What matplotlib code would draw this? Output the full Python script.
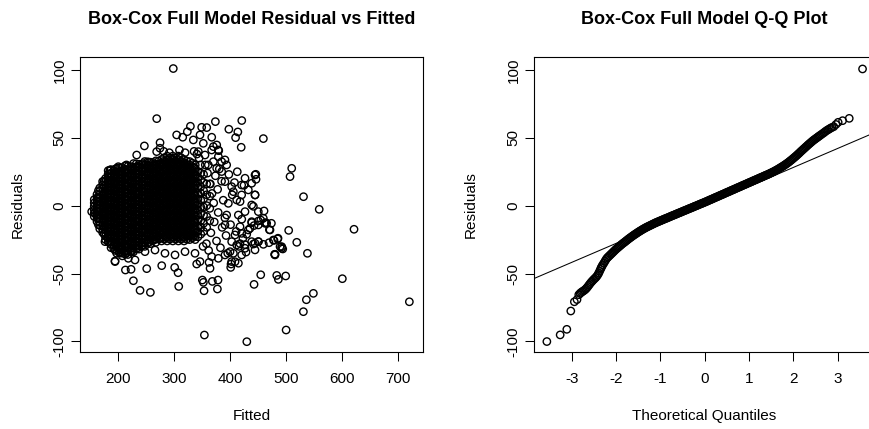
import matplotlib
matplotlib.use("Agg")
import matplotlib.pyplot as plt

# Residuals vs fitted: the solid core of the cloud, read column by column
# (one fitted value per column, with the residuals stacked in that column)
core_col_fitted = [
    158.2, 163.1, 168.0, 173.1, 178.2, 183.0, 188.1, 193.0, 198.1, 203.0,
    208.1, 213.0, 218.1, 223.0, 228.1, 233.0, 238.1, 243.0, 248.1, 253.0,
    258.1, 263.0, 268.1, 273.0, 278.1, 283.0, 288.1, 293.0, 298.1, 303.0,
    308.1, 313.0, 318.1, 323.0, 328.1, 333.0, 338.1, 343.0, 348.0, 353.0,
    358.5, 364.0,
]
core_col_resid = [
    [-8, -5.5, -3, -0.5, 2, 4.5],
    [-11.7, -9.2, -6.7, -4.2, -1.7, 0.8, 3.3, 5.8, 8.3],
    [-17, -14.5, -12, -9.5, -7, -4.5, -2, 0.5, 3, 5.5, 8, 10.5, 13],
    [-19.7, -17.2, -14.7, -12.2, -9.7, -7.2, -4.7, -2.2, 0.3, 2.8, 5.3, 7.8, 10.3,
     12.8, 15.3, 17.8],
    [-25, -22.5, -20, -17.5, -15, -12.5, -10, -7.5, -5, -2.5, 0, 2.5, 5, 7.5, 10,
     12.5, 15, 17.5, 20],
    [-26.7, -24.2, -21.7, -19.2, -16.7, -14.2, -11.7, -9.2, -6.7, -4.2, -1.7, 0.8,
     3.3, 5.8, 8.3, 10.8, 13.3, 15.8, 18.3, 20.8, 23.3, 25.8],
    [-31, -28.5, -26, -23.5, -21, -18.5, -16, -13.5, -11, -8.5, -6, -3.5, -1, 1.5,
     4, 6.5, 9, 11.5, 14, 16.5, 19, 21.5, 24, 26.5],
    [-31.7, -29.2, -26.7, -24.2, -21.7, -19.2, -16.7, -14.2, -11.7, -9.2, -6.7,
     -4.2, -1.7, 0.8, 3.3, 5.8, 8.3, 10.8, 13.3, 15.8, 18.3, 20.8, 23.3, 25.8],
    [-35, -32.5, -30, -27.5, -25, -22.5, -20, -17.5, -15, -12.5, -10, -7.5, -5,
     -2.5, 0, 2.5, 5, 7.5, 10, 12.5, 15, 17.5, 20, 22.5, 25, 27.5],
    [-34.7, -32.2, -29.7, -27.2, -24.7, -22.2, -19.7, -17.2, -14.7, -12.2, -9.7,
     -7.2, -4.7, -2.2, 0.3, 2.8, 5.3, 7.8, 10.3, 12.8, 15.3, 17.8, 20.3, 22.8,
     25.3, 27.8],
    [-37, -34.5, -32, -29.5, -27, -24.5, -22, -19.5, -17, -14.5, -12, -9.5, -7,
     -4.5, -2, 0.5, 3, 5.5, 8, 10.5, 13, 15.5, 18, 20.5, 23, 25.5, 28],
    [-35.7, -33.2, -30.7, -28.2, -25.7, -23.2, -20.7, -18.2, -15.7, -13.2, -10.7,
     -8.2, -5.7, -3.2, -0.7, 1.8, 4.3, 6.8, 9.3, 11.8, 14.3, 16.8, 19.3, 21.8,
     24.3, 26.8, 29.3],
    [-36, -33.5, -31, -28.5, -26, -23.5, -21, -18.5, -16, -13.5, -11, -8.5, -6,
     -3.5, -1, 1.5, 4, 6.5, 9, 11.5, 14, 16.5, 19, 21.5, 24, 26.5, 29],
    [-33.7, -31.2, -28.7, -26.2, -23.7, -21.2, -18.7, -16.2, -13.7, -11.2, -8.7,
     -6.2, -3.7, -1.2, 1.3, 3.8, 6.3, 8.8, 11.3, 13.8, 16.3, 18.8, 21.3, 23.8,
     26.3, 28.8],
    [-34, -31.5, -29, -26.5, -24, -21.5, -19, -16.5, -14, -11.5, -9, -6.5, -4,
     -1.5, 1, 3.5, 6, 8.5, 11, 13.5, 16, 18.5, 21, 23.5, 26, 28.5, 31],
    [-31.7, -29.2, -26.7, -24.2, -21.7, -19.2, -16.7, -14.2, -11.7, -9.2, -6.7,
     -4.2, -1.7, 0.8, 3.3, 5.8, 8.3, 10.8, 13.3, 15.8, 18.3, 20.8, 23.3, 25.8,
     28.3, 30.8],
    [-32, -29.5, -27, -24.5, -22, -19.5, -17, -14.5, -12, -9.5, -7, -4.5, -2, 0.5,
     3, 5.5, 8, 10.5, 13, 15.5, 18, 20.5, 23, 25.5, 28, 30.5],
    [-29.7, -27.2, -24.7, -22.2, -19.7, -17.2, -14.7, -12.2, -9.7, -7.2, -4.7,
     -2.2, 0.3, 2.8, 5.3, 7.8, 10.3, 12.8, 15.3, 17.8, 20.3, 22.8, 25.3, 27.8,
     30.3],
    [-30, -27.5, -25, -22.5, -20, -17.5, -15, -12.5, -10, -7.5, -5, -2.5, 0, 2.5,
     5, 7.5, 10, 12.5, 15, 17.5, 20, 22.5, 25, 27.5, 30, 32.5],
    [-27.7, -25.2, -22.7, -20.2, -17.7, -15.2, -12.7, -10.2, -7.7, -5.2, -2.7,
     -0.2, 2.3, 4.8, 7.3, 9.8, 12.3, 14.8, 17.3, 19.8, 22.3, 24.8, 27.3, 29.8,
     32.3],
    [-28, -25.5, -23, -20.5, -18, -15.5, -13, -10.5, -8, -5.5, -3, -0.5, 2, 4.5,
     7, 9.5, 12, 14.5, 17, 19.5, 22, 24.5, 27, 29.5, 32],
    [-25.7, -23.2, -20.7, -18.2, -15.7, -13.2, -10.7, -8.2, -5.7, -3.2, -0.7, 1.8,
     4.3, 6.8, 9.3, 11.8, 14.3, 16.8, 19.3, 21.8, 24.3, 26.8, 29.3, 31.8],
    [-27, -24.5, -22, -19.5, -17, -14.5, -12, -9.5, -7, -4.5, -2, 0.5, 3, 5.5, 8,
     10.5, 13, 15.5, 18, 20.5, 23, 25.5, 28, 30.5, 33],
    [-24.7, -22.2, -19.7, -17.2, -14.7, -12.2, -9.7, -7.2, -4.7, -2.2, 0.3, 2.8,
     5.3, 7.8, 10.3, 12.8, 15.3, 17.8, 20.3, 22.8, 25.3, 27.8, 30.3, 32.8],
    [-26, -23.5, -21, -18.5, -16, -13.5, -11, -8.5, -6, -3.5, -1, 1.5, 4, 6.5, 9,
     11.5, 14, 16.5, 19, 21.5, 24, 26.5, 29, 31.5, 34],
    [-24.7, -22.2, -19.7, -17.2, -14.7, -12.2, -9.7, -7.2, -4.7, -2.2, 0.3, 2.8,
     5.3, 7.8, 10.3, 12.8, 15.3, 17.8, 20.3, 22.8, 25.3, 27.8, 30.3, 32.8, 35.3],
    [-26, -23.5, -21, -18.5, -16, -13.5, -11, -8.5, -6, -3.5, -1, 1.5, 4, 6.5, 9,
     11.5, 14, 16.5, 19, 21.5, 24, 26.5, 29, 31.5, 34, 36.5],
    [-24.7, -22.2, -19.7, -17.2, -14.7, -12.2, -9.7, -7.2, -4.7, -2.2, 0.3, 2.8,
     5.3, 7.8, 10.3, 12.8, 15.3, 17.8, 20.3, 22.8, 25.3, 27.8, 30.3, 32.8, 35.3],
    [-26, -23.5, -21, -18.5, -16, -13.5, -11, -8.5, -6, -3.5, -1, 1.5, 4, 6.5, 9,
     11.5, 14, 16.5, 19, 21.5, 24, 26.5, 29, 31.5, 34, 36.5],
    [-24.7, -22.2, -19.7, -17.2, -14.7, -12.2, -9.7, -7.2, -4.7, -2.2, 0.3, 2.8,
     5.3, 7.8, 10.3, 12.8, 15.3, 17.8, 20.3, 22.8, 25.3, 27.8, 30.3, 32.8, 35.3],
    [-26, -23.5, -21, -18.5, -16, -13.5, -11, -8.5, -6, -3.5, -1, 1.5, 4, 6.5, 9,
     11.5, 14, 16.5, 19, 21.5, 24, 26.5, 29, 31.5, 34, 36.5],
    [-24.7, -22.2, -19.7, -17.2, -14.7, -12.2, -9.7, -7.2, -4.7, -2.2, 0.3, 2.8,
     5.3, 7.8, 10.3, 12.8, 15.3, 17.8, 20.3, 22.8, 25.3, 27.8, 30.3, 32.8, 35.3],
    [-26, -23.5, -21, -18.5, -16, -13.5, -11, -8.5, -6, -3.5, -1, 1.5, 4, 6.5, 9,
     11.5, 14, 16.5, 19, 21.5, 24, 26.5, 29, 31.5, 34],
    [-24.7, -22.2, -19.7, -17.2, -14.7, -12.2, -9.7, -7.2, -4.7, -2.2, 0.3, 2.8,
     5.3, 7.8, 10.3, 12.8, 15.3, 17.8, 20.3, 22.8, 25.3, 27.8, 30.3, 32.8],
    [-25, -22.5, -20, -17.5, -15, -12.5, -10, -7.5, -5, -2.5, 0, 2.5, 5, 7.5, 10,
     12.5, 15, 17.5, 20, 22.5, 25, 27.5, 30, 32.5],
    [-23.7, -21.2, -18.7, -16.2, -13.7, -11.2, -8.7, -6.2, -3.7, -1.2, 1.3, 3.8,
     6.3, 8.8, 11.3, 13.8, 16.3, 18.8, 21.3, 23.8, 26.3, 28.8, 31.3],
    [-25, -22.5, -20, -17.5, -15, -12.5, -10, -7.5, -5, -2.5, 0, 2.5, 5, 7.5, 10,
     12.5, 15, 17.5, 20, 22.5, 25, 27.5, 30],
    [-23, -19, -15, -11, -7, -3, 1, 5, 9, 13, 17, 21, 25],
    [-21, -16, -11, -6, -1, 4, 9, 14, 19, 24],
    [-19, -13, -7, -1, 5, 11, 17, 23],
    [-16, -8, 0, 8, 16],
    [-11, -2, 7, 16],
]

# a second, offset pass through the core (readings between the columns above)
core2_col_fitted = [
    165.6, 175.7, 185.5, 195.6, 205.5, 215.6, 225.5, 235.6, 245.5, 255.6,
    265.5, 275.6, 285.5, 295.6, 305.5, 315.6, 325.5, 335.6,
]
core2_col_resid = [
    [-14, -9, -4, 1, 6, 11],
    [-21, -16, -11, -6, -1, 4, 9, 14, 18],
    [-27, -22, -17, -12, -7, -2, 3, 8, 13, 18, 23],
    [-33, -28, -23, -18, -13, -8, -3, 2, 7, 12, 17, 22, 27],
    [-35, -30, -25, -20, -15, -10, -5, 0, 5, 10, 15, 20, 25],
    [-35, -30, -25, -20, -15, -10, -5, 0, 5, 10, 15, 20, 25, 30],
    [-33, -28, -23, -18, -13, -8, -3, 2, 7, 12, 17, 22, 27],
    [-31, -26, -21, -16, -11, -6, -1, 4, 9, 14, 19, 24, 29],
    [-29, -24, -19, -14, -9, -4, 1, 6, 11, 16, 21, 26, 31],
    [-27, -22, -17, -12, -7, -2, 3, 8, 13, 18, 23, 28, 32],
    [-25, -20, -15, -10, -5, 0, 5, 10, 15, 20, 25, 30],
    [-24, -19, -14, -9, -4, 1, 6, 11, 16, 21, 26, 31],
    [-23, -18, -13, -8, -3, 2, 7, 12, 17, 22, 27, 32],
    [-23, -18, -13, -8, -3, 2, 7, 12, 17, 22, 27, 32],
    [-23, -18, -13, -8, -3, 2, 7, 12, 17, 22, 27, 32],
    [-23, -18, -13, -8, -3, 2, 7, 12, 17, 22, 27, 32],
    [-22, -17, -12, -7, -2, 3, 8, 13, 18, 23, 28],
    [-22, -17, -12, -7, -2, 3, 8, 13, 18, 23, 28],
]

# Residuals vs fitted: looser fringe and the outlying points
outer_fitted = [
    299, 269.5, 421, 374, 398, 459.5, 414, 410, 420, 329.5,
    349.6, 358.6, 305, 315.8, 324, 367.5, 247.5, 275.4, 376.4, 380,
    510, 507, 446, 531, 559, 621, 504.6, 519, 538, 499.3,
    483.3, 486.2, 600.2, 548.6, 536.1, 530.8, 500, 719.6, 430, 354.4,
    454.8, 442.9, 378.7, 377.6, 350.8, 352.6, 353.8, 368.6, 308.7, 307.5,
    301.5, 239.8, 258.2, 227.9, 251.7, 278.4, 213.7, 223.8, 195.2, 340.7,
    364.5, 362.7, 401.3, 401.9, 409, 479.7, 478.5, 492.2, 494, 470.2,
    473.8, 460.7, 450.6, 441.7, 444.7, 446.4, 459.5, 450.6, 441.7, 429.8,
    426.8, 428.6, 417.9, 417.9, 438.7, 435.7, 454.8, 465.4, 469.6, 406.1,
    485.6, 489.2, 480.2, 463.6, 444.6, 442.8,
    334.7, 346.6, 352.5, 370.4, 379.3, 367.4, 275.3, 269.4, 233.8, 153.6,
    159.5, 165.5, 444.6, 426.8, 438.7, 420.8, 432.7, 444.6, 420.8, 403,
    412, 438.7, 450.5, 426.8, 414.9, 459.4, 438.7, 450.5, 462.4, 471.3,
    432.7, 420.8, 438.7, 450.5, 477.3, 485, 492.1, 480.2, 412, 426.8,
    444.6, 400.1, 403, 409, 391.1, 394.1, 397.1, 406, 391.1, 385.2,
    394.1, 385.2, 343.6, 355.5, 370.4, 379.3, 391.1, 361.4, 376.3,
    195.2, 218.9, 230.8, 248.6, 266.4, 284.2, 302.1, 319.9, 337.7, 346.6,
    367.4, 379.3, 391.1, 403, 415, 420.8, 207, 224.8, 177.3, 183.3,
    372, 376, 379, 383, 386, 388, 391, 393, 396, 398,
    401, 404, 408, 411, 413, 416, 418, 421, 423, 425,
    368, 365, 360, 356, 371, 374, 381, 385, 378, 366,
    358, 362, 347, 352, 345, 186.2, 201.1, 213, 282, 292,
    310, 320, 336, 341,
]
outer_resid = [
    101, 64.1, 62.7, 61.9, 56.3, 49.4, 54.3, 50.1, 43, 58.5,
    57.7, 57.5, 52.1, 50.4, 54.5, 50.4, 44, 46.4, 44.7, 40.5,
    27.5, 21.4, 23.1, 6.6, -2.7, -17.4, -18.2, -27, -35.1, -51.8,
    -51.4, -54.3, -53.8, -64.6, -69.3, -78.1, -91.6, -70.8, -100.2, -95.3,
    -50.9, -58, -54.8, -61.4, -54.8, -56.5, -62.7, -55.8, -59.5, -49.4,
    -45.5, -62.4, -63.9, -55.3, -46.4, -44.2, -47.4, -46.9, -40.8, -43,
    -46.2, -41.8, -45.5, -43, -41.3, -35.9, -25.6, -30.2, -31.9, -17.7,
    -13, -3.9, -11.3, -0.5, 7.9, 19.4, -28.5, -26.5, -28.3, -21.1,
    -28.7, -34.2, -28, -15.5, -12.5, -16.7, -10.6, -13, -27.3, -35.1,
    -24, -30.2, -36.3, -12.5, -27.7, -14.7,
    48.4, 52.1, 45.9, 43.5, 41, 41, 42.3, 39.8, 37.3, -4.4,
    -5.6, 5.4, 22.6, 20.2, 16.5, 15.2, 11.6, 7.9, 7.9, 14,
    4.2, 0.5, -4.4, -4.4, -6.9, -9.3, -11.8, -14.2, -13, -17.9,
    -17.9, -20.4, -26.5, -26.5, -25.3, -24.5, -31.4, -35.8, -29, -31.4,
    -32.6, -33.9, -26.5, -21.6, -14.2, -6.9, 1.7, 10.3, 17.7, 25.1,
    30, 32.4, 39.8, 37.3, 32.4, 36.1, 33.7, 30, 27.5,
    -41.2, -38.8, -40, -33.9, -32.7, -35.1, -36.3, -33.9, -35.1, -41.2,
    -37.5, -38.8, -36.3, -41.2, -42.4, -36.3, -31.4, -33.9, -26.5, -19.1,
    -12, -26, -5, -31, -16, 4, -9, -22, -35, 23,
    -14, 8, 17, -19, 25, -30, 3, -10, -24, 15,
    9, 16, 24, 30, 2, 22, 27, 18, 12, -20,
    -28, -33, 30, -30, 35, 26.3, 28.7, 26.3, 40, 39,
    41, 39, 40, 38,
]

# Normal Q-Q: theoretical quantiles and sorted residuals
qq_theoretical = [
    -3.56, -3.26, -3.11, -3.02, -2.94, -2.88, -2.84, -2.81, -2.785, -2.76,
    -2.735, -2.71, -2.685, -2.66, -2.635, -2.61, -2.585, -2.56, -2.535, -2.51,
    -2.485, -2.46, -2.435, -2.41, -2.39, -2.37, -2.35, -2.335, -2.32,
    -2.300, -2.275, -2.250, -2.225, -2.200, -2.175, -2.150, -2.125, -2.100, -2.075,
    -2.050, -2.025, -2.000, -1.975, -1.950, -1.925, -1.900, -1.875, -1.850, -1.825,
    -1.800, -1.775, -1.750, -1.725, -1.700, -1.675, -1.650, -1.625, -1.600, -1.575,
    -1.550, -1.525, -1.500, -1.475, -1.450, -1.425, -1.400, -1.375, -1.350, -1.325,
    -1.300, -1.275, -1.250, -1.225, -1.200, -1.175, -1.150, -1.125, -1.100, -1.075,
    -1.050, -1.025, -1.000, -0.975, -0.950, -0.925, -0.900, -0.875, -0.850, -0.825,
    -0.800, -0.775, -0.750, -0.725, -0.700, -0.675, -0.650, -0.625, -0.600, -0.575,
    -0.550, -0.525, -0.500, -0.475, -0.450, -0.425, -0.400, -0.375, -0.350, -0.325,
    -0.300, -0.275, -0.250, -0.225, -0.200, -0.175, -0.150, -0.125, -0.100, -0.075,
    -0.050, -0.025, 0.000, 0.025, 0.050, 0.075, 0.100, 0.125, 0.150, 0.175,
    0.200, 0.225, 0.250, 0.275, 0.300, 0.325, 0.350, 0.375, 0.400, 0.425,
    0.450, 0.475, 0.500, 0.525, 0.550, 0.575, 0.600, 0.625, 0.650, 0.675,
    0.700, 0.725, 0.750, 0.775, 0.800, 0.825, 0.850, 0.875, 0.900, 0.925,
    0.950, 0.975, 1.000, 1.025, 1.050, 1.075, 1.100, 1.125, 1.150, 1.175,
    1.200, 1.225, 1.250, 1.275, 1.300, 1.325, 1.350, 1.375, 1.400, 1.425,
    1.450, 1.475, 1.500, 1.525, 1.550, 1.575, 1.600, 1.625, 1.650, 1.675,
    1.700, 1.725, 1.750, 1.775, 1.800, 1.825, 1.850, 1.875, 1.900, 1.925,
    1.950, 1.975, 2.000, 2.025, 2.050, 2.075, 2.100, 2.125, 2.150, 2.175,
    2.200, 2.225, 2.250, 2.275, 2.300, 2.325, 2.350, 2.375, 2.400, 2.425,
    2.450, 2.475, 2.500, 2.525, 2.550, 2.575, 2.600, 2.63, 2.66, 2.69,
    2.72, 2.75, 2.78, 2.81, 2.84, 2.87, 2.91, 2.96, 3.01, 3.11,
    3.26, 3.56,
]
qq_residuals = [
    -100.1, -95.2, -91.1, -77.6, -70.8, -69.2, -65.6, -64.6, -63.9, -63.3,
    -62.8, -62.2, -61.5, -60.6, -59.6, -58.5, -57.4, -56.4, -55.5, -54.6,
    -53.8, -53.0, -52.1, -50.9, -49.7, -48.3, -46.9, -45.8, -44.8,
    -43.6, -42.4, -41.0, -39.6, -38.5, -37.7, -36.9, -36.1, -35.3, -34.5,
    -33.7, -32.9, -32.1, -31.4, -30.7, -30.0, -29.3, -28.6, -27.9, -27.3,
    -26.7, -26.0, -25.4, -24.7, -24.1, -23.5, -22.9, -22.3, -21.7, -21.2,
    -20.6, -20.1, -19.5, -19.0, -18.5, -18.0, -17.5, -17.0, -16.6, -16.1,
    -15.7, -15.3, -14.9, -14.5, -14.1, -13.7, -13.3, -12.9, -12.5, -12.2,
    -11.8, -11.5, -11.1, -10.8, -10.4, -10.1, -9.7, -9.4, -9.1, -8.7,
    -8.4, -8.0, -7.7, -7.3, -7.0, -6.7, -6.3, -6.0, -5.6, -5.3,
    -5.0, -4.6, -4.3, -3.9, -3.6, -3.3, -2.9, -2.6, -2.2, -1.9,
    -1.6, -1.2, -0.9, -0.5, -0.2, 0.1, 0.5, 0.8, 1.2, 1.5,
    1.8, 2.2, 2.5, 2.9, 3.2, 3.6, 4.0, 4.3, 4.7, 5.0,
    5.4, 5.8, 6.1, 6.5, 6.8, 7.2, 7.6, 7.9, 8.3, 8.6,
    9.0, 9.4, 9.7, 10.1, 10.4, 10.8, 11.2, 11.5, 11.9, 12.2,
    12.6, 13.0, 13.3, 13.7, 14.0, 14.4, 14.8, 15.1, 15.5, 15.8,
    16.2, 16.6, 16.9, 17.3, 17.6, 18.0, 18.4, 18.7, 19.1, 19.4,
    19.8, 20.2, 20.5, 20.9, 21.2, 21.6, 22.0, 22.3, 22.7, 23.0,
    23.4, 23.8, 24.2, 24.6, 25.0, 25.4, 25.9, 26.3, 26.8, 27.3,
    27.8, 28.3, 28.8, 29.3, 29.9, 30.4, 31.0, 31.6, 32.2, 32.9,
    33.5, 34.2, 34.9, 35.6, 36.3, 37.0, 37.8, 38.5, 39.3, 40.1,
    40.8, 41.6, 42.3, 43.1, 43.8, 44.6, 45.3, 46.0, 46.7, 47.4,
    48.1, 48.7, 49.3, 49.9, 50.5, 51.1, 51.7, 52.4, 53.1, 53.8,
    54.6, 55.3, 55.9, 56.5, 57.1, 57.6, 58.2, 59.8, 61.4, 62.6,
    64.3, 100.7,
]

# qqline: passes through the quartile pairs
qqline_q = [-0.674, 0.674]
qqline_r = [-9.25, 9.61]

y_ticks = [-100, -50, 0, 50, 100]
fitted_ticks = [200, 300, 400, 500, 600, 700]
qq_ticks = [-3, -2, -1, 0, 1, 2, 3]

# expand the core columns into point lists
core_fitted = []
core_resid = []
for xs, ys in ((core_col_fitted, core_col_resid), (core2_col_fitted, core2_col_resid)):
    for fx, col in zip(xs, ys):
        core_fitted += [fx] * len(col)
        core_resid += col

plt.rcParams['font.family'] = ['Liberation Sans', 'DejaVu Sans']

W, H = 870, 429
fig = plt.figure(figsize=(W / 100, H / 100), dpi=100)
fig.patch.set_facecolor('white')

ax1 = fig.add_axes([80 / W, 1 - 352 / H, 343 / W, 295 / H])
ax2 = fig.add_axes([534 / W, 1 - 352 / H, 341.4 / W, 295 / H])

point_style = dict(s=28, facecolors='none', edgecolors='black', linewidths=1.0)
ax1.scatter(core_fitted, core_resid, **point_style)
ax1.scatter(outer_fitted, outer_resid, **point_style)
ax2.scatter(qq_theoretical, qq_residuals, **point_style)
ax2.axline((qqline_q[0], qqline_r[0]), (qqline_q[1], qqline_r[1]),
           color='black', linewidth=0.75)

ax1.set_xlim(132.8, 743.9)
ax2.set_xlim(-3.85, 3.85)
for ax, xt in ((ax1, fitted_ticks), (ax2, qq_ticks)):
    ax.set_ylim(-107.8, 109.5)
    ax.set_xticks(xt)
    ax.set_xticklabels([str(t) for t in xt])
    ax.set_yticks(y_ticks)
    ax.set_yticklabels([str(t) for t in y_ticks], rotation=90, va='center')
    ax.tick_params(axis='both', direction='out', length=6.5, width=0.75,
                   labelsize=11, color='black')
    ax.tick_params(axis='x', pad=8)
    ax.tick_params(axis='y', pad=3)
    for sp in ax.spines.values():
        sp.set_linewidth(0.8)
        sp.set_color('black')

# titles and axis labels placed like R's base graphics margins
fig.text(251.5 / W, 1 - 20 / H, 'Box-Cox Full Model Residual vs Fitted',
         ha='center', va='center', fontsize=13, fontweight='bold')
fig.text(704.5 / W, 1 - 20 / H, 'Box-Cox Full Model Q-Q Plot',
         ha='center', va='center', fontsize=13, fontweight='bold')
fig.text(251.5 / W, 1 - 416 / H, 'Fitted', ha='center', va='center', fontsize=11)
fig.text(704.5 / W, 1 - 416 / H, 'Theoretical Quantiles', ha='center', va='center', fontsize=11)
fig.text(18 / W, 1 - 204.5 / H, 'Residuals', rotation=90, ha='center', va='center', fontsize=11)
fig.text(471 / W, 1 - 204.5 / H, 'Residuals', rotation=90, ha='center', va='center', fontsize=11)

fig.savefig('out.png', dpi=100, facecolor='white')
